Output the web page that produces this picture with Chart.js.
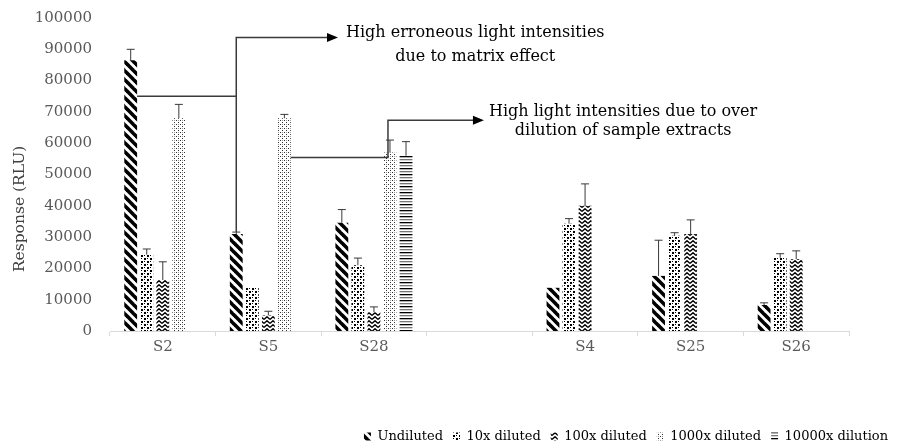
<html>
<head>
    <meta http-equiv="Content-Type" content="text/html; charset=utf-8" />
    <title>Response (RLU) by dilution</title>
    <script src="https://cdn.jsdelivr.net/npm/chart.js@4.4.1/dist/chart.umd.min.js"></script>
    <style>
        html, body { margin: 0; padding: 0; background: #fff; }
        #chart { display: block; }
    </style>
</head>
<body>
<canvas id="chart" width="898" height="445"></canvas>
<script>
    // samples (the empty slot is the gap between the two sample sets)
    const categories = ["S2", "S5", "S28", "", "S4", "S25", "S26"];
    const seriesNames = ["Undiluted", "10x diluted", "100x diluted", "1000x diluted", "10000x dilution"];

    // mean responses
    const undiluted = [86500, 31000, 34600, null, 13800, 17600, 8300];
    const diluted10 = [24400, 14000, 21000, null, 34300, 30400, 23400];
    const diluted100 = [16300, 5000, 6000, null, 40000, 31000, 23000];
    const diluted1000 = [68000, 68000, 57000, null, null, null, null];
    const diluted10000 = [null, null, 56000, null, null, null, null];

    // error bar heights (upper side only)
    const undilutedErr = [3500, 600, 4200, 0, 0, 11400, 700];
    const diluted10Err = [1800, 0, 2300, 0, 1600, 1000, 1300];
    const diluted100Err = [5800, 1300, 1700, 0, 7000, 4500, 2600];
    const diluted1000Err = [4400, 1200, 4000, 0, 0, 0, 0];
    const diluted10000Err = [0, 0, 4500, 0, 0, 0, 0];

    const yTicks = [0, 10000, 20000, 30000, 40000, 50000, 60000, 70000, 80000, 90000, 100000];

    const note1 = ["High erroneous light intensities", "due to matrix effect"];
    const note2 = ["High light intensities due to over", "dilution of sample extracts"];

    const canvas = document.getElementById("chart");
    const ctx = canvas.getContext("2d");

    function makePattern(w, h, draw) {
        const c = document.createElement("canvas");
        c.width = w;
        c.height = h;
        const g = c.getContext("2d");
        g.fillStyle = "#fff";
        g.fillRect(0, 0, w, h);
        draw(g);
        return ctx.createPattern(c, "repeat");
    }

    const patStripes = makePattern(9, 9, g => {
        g.strokeStyle = "#000";
        g.lineWidth = 3.6;
        for (let k = -1; k <= 1; k++) {
            g.beginPath();
            g.moveTo(-1, k * 9 - 1);
            g.lineTo(10, 10 + k * 9);
            g.stroke();
        }
    });
    const patDots = makePattern(6, 6, g => {
        g.fillStyle = "#000";
        g.fillRect(0, 0, 2, 2);
        g.fillRect(3, 3, 2, 2);
        g.fillRect(3, 0, 1, 1);
        g.fillRect(0, 3, 1, 1);
    });
    const patZigzag = makePattern(6, 4, g => {
        g.strokeStyle = "#000";
        g.lineWidth = 1.3;
        g.beginPath();
        g.moveTo(0, 3.5);
        g.lineTo(3, 0.7);
        g.lineTo(6, 3.5);
        g.stroke();
    });
    const patSparse = makePattern(4, 4, g => {
        g.fillStyle = "#333";
        g.fillRect(0, 0, 1, 1);
        g.fillRect(2, 2, 1, 1);
        g.fillStyle = "#999";
        g.fillRect(2, 0, 1, 1);
    });
    const patLines = makePattern(2, 6, g => {
        g.fillStyle = "#000";
        g.fillRect(0, 0, 2, 1.3);
        g.fillStyle = "#777";
        g.fillRect(0, 3, 2, 1.3);
    });

    const values = [undiluted, diluted10, diluted100, diluted1000, diluted10000];
    const errors = [undilutedErr, diluted10Err, diluted100Err, diluted1000Err, diluted10000Err];
    const patterns = [patStripes, patDots, patZigzag, patSparse, patLines];

    const serif = "'DejaVu Serif', 'Liberation Serif', serif";
    const lineColor = "#3a3a3a";

    // upper error bars with caps
    const errorBars = {
        id: "errorBars",
        afterDatasetsDraw(chart) {
            const y = chart.scales.y;
            const c = chart.ctx;
            c.save();
            c.strokeStyle = lineColor;
            c.lineWidth = 1;
            values.forEach((vals, i) => {
                const meta = chart.getDatasetMeta(i);
                vals.forEach((v, j) => {
                    const e = errors[i][j];
                    if (v == null || !e) return;
                    const bar = meta.data[j];
                    const top = y.getPixelForValue(v + e);
                    c.beginPath();
                    c.moveTo(bar.x, bar.y);
                    c.lineTo(bar.x, top);
                    c.moveTo(bar.x - 4, top);
                    c.lineTo(bar.x + 4, top);
                    c.stroke();
                });
            });
            c.restore();
        }
    };

    function arrowHead(c, x, y) {
        c.beginPath();
        c.moveTo(x, y);
        c.lineTo(x - 11, y - 4.5);
        c.lineTo(x - 11, y + 4.5);
        c.closePath();
        c.fill();
    }

    // callout arrows, notes and the y axis title
    const callouts = {
        id: "callouts",
        afterDraw(chart) {
            const x = chart.scales.x;
            const y = chart.scales.y;
            const c = chart.ctx;
            c.save();
            c.strokeStyle = lineColor;
            c.fillStyle = "#000";
            c.lineWidth = 1.5;
            c.font = "16px " + serif;
            c.textAlign = "center";
            c.textBaseline = "middle";

            // note 1: from S2 undiluted over to S5 undiluted and up
            const a = chart.getDatasetMeta(0).data[0];
            const b = chart.getDatasetMeta(0).data[1];
            const t1x = x.getPixelForValue(2.96);
            const w1 = Math.max(...note1.map(s => c.measureText(s).width));
            const tip1 = t1x - w1 / 2 - 8;
            const yA = y.getPixelForValue(75000);
            const yB = y.getPixelForValue(93800);
            c.beginPath();
            c.moveTo(a.x + a.width / 2, yA);
            c.lineTo(b.x, yA);
            c.moveTo(b.x, y.getPixelForValue(undiluted[1] + undilutedErr[1]));
            c.lineTo(b.x, yB);
            c.lineTo(tip1 - 8, yB);
            c.stroke();
            arrowHead(c, tip1, yB);
            c.fillText(note1[0], t1x, y.getPixelForValue(95200));
            c.fillText(note1[1], t1x, y.getPixelForValue(87600));

            // note 2: from S5 1000x over to S28 1000x and up
            const d = chart.getDatasetMeta(3).data[1];
            const f = chart.getDatasetMeta(3).data[2];
            const t2x = x.getPixelForValue(4.36);
            const w2 = Math.max(...note2.map(s => c.measureText(s).width));
            const tip2 = t2x - w2 / 2 - 5;
            const yC = y.getPixelForValue(55400);
            const yD = y.getPixelForValue(67300);
            c.beginPath();
            c.moveTo(d.x + d.width / 2, yC);
            c.lineTo(f.x - 2, yC);
            c.lineTo(f.x - 2, yD);
            c.lineTo(tip2 - 8, yD);
            c.stroke();
            arrowHead(c, tip2, yD);
            c.fillText(note2[0], t2x, y.getPixelForValue(70000));
            c.fillText(note2[1], t2x, y.getPixelForValue(64000));

            // y axis title
            c.fillStyle = "#404040";
            c.font = "15.5px " + serif;
            c.translate(20, y.getPixelForValue(39000));
            c.rotate(-Math.PI / 2);
            c.fillText("Response (RLU)", 0, 0);
            c.restore();
        }
    };

    const config = {
        type: "bar",
        data: {
            labels: categories,
            datasets: seriesNames.map((name, i) => ({
                label: name,
                data: values[i],
                backgroundColor: patterns[i],
                borderColor: "transparent",
                borderWidth: 0,
                categoryPercentage: 0.76,
                barPercentage: 0.8
            }))
        },
        options: {
            responsive: false,
            animation: false,
            devicePixelRatio: 1,
            layout: { padding: { top: 18, left: 0, right: 0, bottom: -8 } },
            plugins: {
                tooltip: { enabled: false },
                legend: {
                    position: "bottom",
                    align: "end",
                    labels: {
                        color: "#000",
                        font: { family: serif, size: 13 },
                        boxWidth: 7,
                        boxHeight: 8,
                        padding: 10
                    }
                }
            },
            scales: {
                x: {
                    grid: {
                        display: true,
                        offset: true,
                        drawOnChartArea: false,
                        drawTicks: true,
                        tickLength: 5,
                        color: "#d9d9d9"
                    },
                    border: { display: true, color: "#d9d9d9", width: 1 },
                    ticks: {
                        color: "#595959",
                        font: { family: serif, size: 15 },
                        padding: 2
                    },
                    afterFit(s) { s.height = 89; }
                },
                y: {
                    min: 0,
                    max: 100000,
                    afterBuildTicks(s) { s.ticks = yTicks.map(v => ({ value: v })); },
                    grid: { display: false, drawTicks: false },
                    border: { display: false },
                    ticks: {
                        color: "#595959",
                        font: { family: serif, size: 15 },
                        padding: 18,
                        callback: v => String(v)
                    },
                    afterFit(s) {
                        s.width = 110;
                        s.paddingTop = 0;
                        s.paddingBottom = 0;
                    }
                },
                yRight: {
                    position: "right",
                    display: true,
                    grid: { display: false, drawTicks: false },
                    border: { display: false },
                    ticks: { display: false },
                    afterFit(s) {
                        s.width = 49;
                        s.paddingTop = 0;
                        s.paddingBottom = 0;
                    }
                }
            }
        },
        plugins: [errorBars, callouts]
    };

    new Chart(canvas, config);
</script>
</body>
</html>
